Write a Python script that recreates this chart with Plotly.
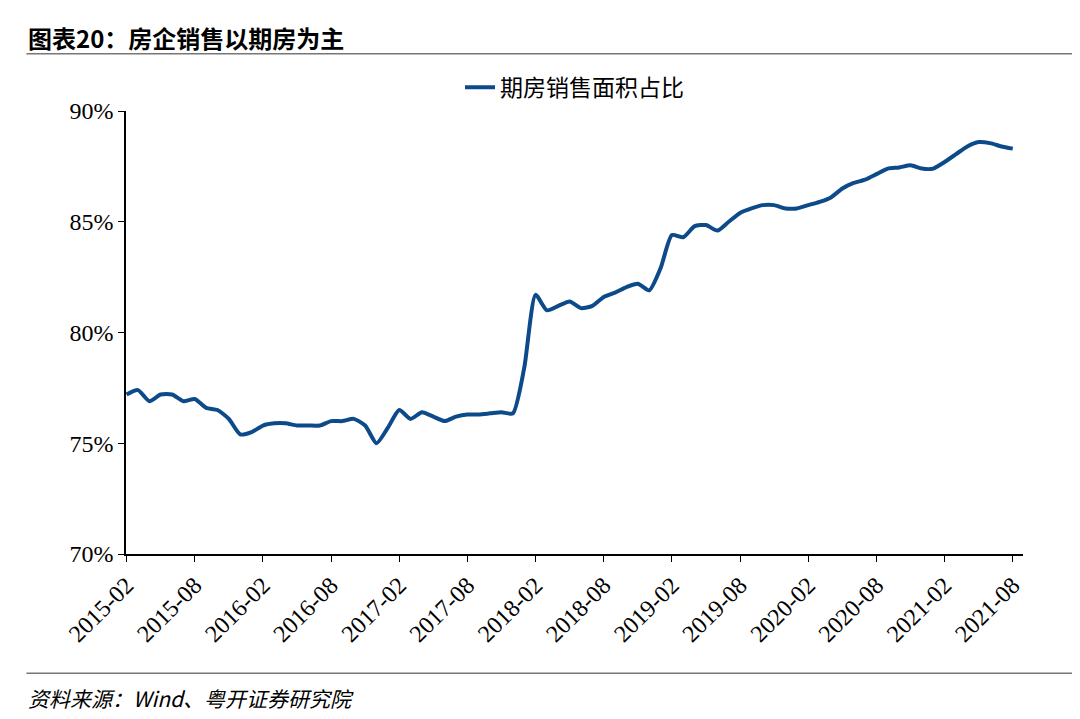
import plotly.graph_objects as go
import pandas as pd

months = pd.date_range("2015-02-01", "2021-08-01", freq="MS").strftime("%Y-%m").tolist()
share = [77.2, 77.4, 76.9, 77.2, 77.2, 76.9, 77.0, 76.6, 76.5, 76.1, 75.4, 75.5,
         75.8, 75.9, 75.9, 75.8, 75.8, 75.8, 76.0, 76.0, 76.1, 75.8, 75.0, 75.7,
         76.5, 76.1, 76.4, 76.2, 76.0, 76.2, 76.3, 76.3, 76.35, 76.4, 76.35, 78.4,
         81.7, 81.0, 81.2, 81.4, 81.1, 81.2, 81.6, 81.8, 82.05, 82.2, 81.9, 82.9,
         84.4, 84.3, 84.8, 84.85, 84.6, 85.0, 85.4, 85.6, 85.75, 85.75, 85.6, 85.6,
         85.75, 85.9, 86.1, 86.5, 86.75, 86.9, 87.15, 87.4, 87.45, 87.55, 87.4, 87.4,
         87.7, 88.05, 88.4, 88.6, 88.55, 88.4, 88.3]
tick_labels = months[::6]
y_ticks = [70, 75, 80, 85, 90]

serif = "Liberation Serif, Times New Roman, serif"
cjk = "Noto Sans CJK SC"

fig = go.Figure()
fig.add_trace(go.Scatter(x=months, y=share, mode="lines", name="期房销售面积占比", showlegend=True,
                         line=dict(color="#0d4a8a", width=4, shape="spline", smoothing=0.6)))

fig.update_layout(
    width=1080, height=719, plot_bgcolor="white", paper_bgcolor="white",
    margin=dict(l=118, r=65, t=103, b=173),
    font=dict(family=serif, size=24, color="black"),
    showlegend=True,
    legend=dict(orientation="h", x=0.5, xanchor="center", y=1.005, yanchor="bottom",
                font=dict(family=cjk, size=23)),
    xaxis=dict(type="category", tickvals=tick_labels, ticktext=tick_labels, tickangle=-45,
               showline=True, linecolor="black", linewidth=1.5, ticks="outside",
               ticklen=6, tickcolor="black", showgrid=False, range=[-0.05, 78.9]),
    yaxis=dict(range=[70, 90], tickvals=y_ticks, ticktext=[f"{v}%" for v in y_ticks],
               showline=True, linecolor="black", linewidth=1.5, ticks="outside",
               ticklen=6, tickcolor="black", showgrid=False),
)

fig.add_annotation(text="<b>图表20：房企销售以期房为主</b>", xref="paper", yref="paper",
                   x=-0.111, y=1.165, xanchor="left", yanchor="middle", showarrow=False,
                   font=dict(family=cjk, size=24, color="black"))
fig.add_shape(type="line", xref="paper", yref="paper", x0=-0.111, x1=1.07, y0=1.129, y1=1.129,
              line=dict(color="#777777", width=1.5))
fig.add_shape(type="line", xref="paper", yref="paper", x0=-0.111, x1=1.07, y0=-0.269, y1=-0.269,
              line=dict(color="#777777", width=1.5))
fig.add_annotation(text="<i>资料来源：Wind、粤开证券研究院</i>", xref="paper", yref="paper",
                   x=-0.111, y=-0.325, xanchor="left", yanchor="middle", showarrow=False,
                   font=dict(family=cjk, size=21, color="black"))

fig.write_html("out.html")
